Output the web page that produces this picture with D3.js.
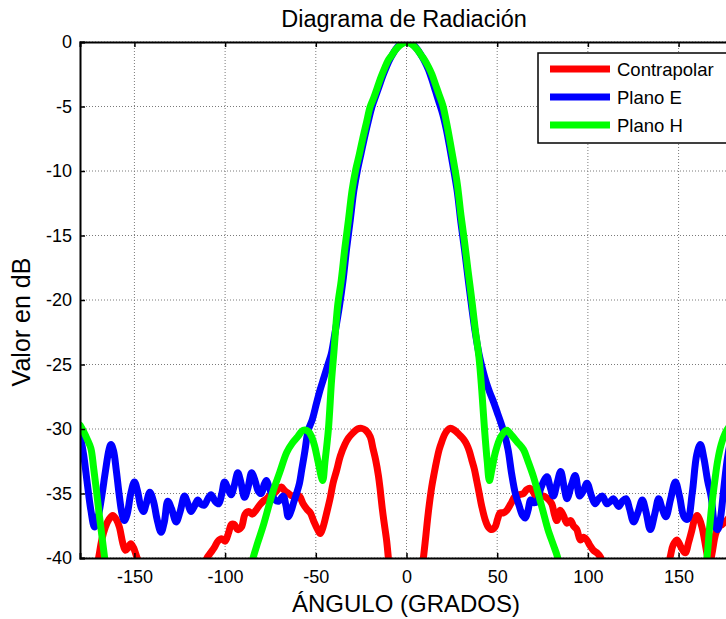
<!DOCTYPE html>
<html>
<head>
<meta charset="utf-8">
<script src="https://cdn.jsdelivr.net/npm/d3@7"></script>
<style>
  body { margin: 0; background: #fff; }
  svg { font-family: "Liberation Sans", Arial, sans-serif; }
</style>
</head>
<body>
<div id="chart"></div>
<script>
var contrapolar = [
  [-180,-45],[-174,-44],[-171,-41],[-169.5,-39.8],[-168,-38.6],[-166,-37.6],[-164,-37.0],[-162,-36.7],
  [-160,-37.0],[-158.3,-37.6],[-156.5,-38.8],[-155,-39.4],[-153.5,-39.2],[-152,-38.9],[-150.5,-39.2],
  [-149,-39.8],[-147,-40.6],[-144,-43],[-130,-45],[-116,-43],[-112,-41],[-110,-40],[-108,-39.6],
  [-106,-39.2],[-104,-38.7],[-102,-38.5],[-100,-38.7],[-98,-38.0],[-96.5,-37.4],[-95,-37.4],[-93,-37.8],
  [-91,-37.6],[-89,-36.6],[-87,-36.4],[-85,-36.6],[-83,-36.3],[-81,-35.9],[-79,-35.6],[-77,-35.4],
  [-75,-35.1],[-73,-35.0],[-71,-34.7],[-69,-34.5],[-67,-34.8],[-65,-35.0],[-63,-35.2],[-61,-35.1],
  [-59,-35.2],[-57,-35.8],[-55,-36.2],[-53,-36.5],[-51,-37.2],[-49,-37.8],[-47.5,-38.1],[-46,-37.6],
  [-44,-36.5],[-42,-35.3],[-40.5,-34.2],[-38.5,-33.2],[-36.5,-32.1],[-34,-31.2],[-32,-30.7],[-29.5,-30.3],
  [-27,-30.0],[-24.7,-29.95],[-22.5,-30.1],[-20,-30.6],[-18.5,-31.5],[-17,-32.4],[-15.5,-33.6],
  [-14.5,-34.7],[-13.5,-36],[-12.5,-37.1],[-11,-38.6],[-10,-40],[-8,-43],[-4,-48],[0,-52],[4,-48],
  [7,-43],[8.3,-41],[9.3,-40],[10.5,-38.5],[12,-36.5],[13.9,-34.5],[15.3,-33.4],[16.7,-32.4],[18,-31.6],
  [19.4,-31],[21.5,-30.3],[24,-29.95],[26.5,-30.1],[29.5,-30.5],[31.5,-30.8],[33.2,-31.2],[34.6,-31.7],
  [36,-32.4],[37.4,-33.1],[38.7,-34],[40.1,-35],[41.5,-36],[43.3,-37.0],[45.1,-37.6],[47,-37.8],
  [48.8,-37.6],[50.2,-37.0],[51.6,-36.5],[53.4,-36.5],[55.3,-36.3],[57.5,-35.8],[59.9,-35.2],[62,-35.1],
  [64.5,-35.0],[66.3,-34.7],[68.2,-34.6],[70,-34.9],[71.9,-35.4],[73.7,-35.3],[75.5,-35.2],[77.8,-35.4],
  [80.1,-35.8],[81.5,-36.6],[82.9,-37.1],[84.7,-36.3],[86.5,-36.7],[88.4,-37.3],[90.5,-37.1],[92,-37.5],
  [93.9,-37.8],[95.8,-38.6],[97.5,-38.4],[99.4,-38.6],[101,-39.0],[103,-39.4],[105,-39.6],[106.8,-39.9],
  [108.5,-40.5],[111,-42],[125,-45],[140,-43],[143.5,-41],[145.4,-39.9],[147,-39.0],[149.1,-38.6],
  [151.5,-39.2],[153.7,-39.6],[155.5,-38.8],[157.4,-37.8],[158.8,-37.0],[160.2,-36.7],[161.5,-37.0],
  [162.9,-37.6],[164.3,-38.6],[165.7,-39.7],[167,-40.6],[168.5,-39.6],[170.3,-38.2],[172,-37.6],
  [174,-37.4],[177,-37],[180,-36.5]
];

var planoE = [
  [-180,-30.4],[-178,-32],[-176,-34.2],[-174,-36.3],[-172,-37.6],[-170,-36.8],[-168,-35.2],[-166,-33.3],
  [-164,-31.6],[-162.9,-31.2],[-161.5,-31.7],[-160,-33.2],[-158.3,-35.2],[-156.8,-36.6],[-155.5,-37.1],
  [-154,-36.6],[-152,-35.0],[-150,-34.1],[-148.3,-34.8],[-146.5,-36.0],[-145,-36.4],[-143.5,-35.8],
  [-141.5,-34.9],[-139.5,-35.6],[-137.5,-37.0],[-135.3,-38.0],[-133.5,-37.2],[-131.6,-35.6],
  [-129.5,-36.2],[-127,-37.2],[-124.8,-36.4],[-122.4,-35.2],[-120.5,-35.8],[-118.8,-36.4],[-117,-36.0],
  [-115.1,-35.5],[-113.5,-35.8],[-111.5,-35.9],[-109.5,-35.4],[-107.7,-35.1],[-105.5,-35.6],
  [-103.5,-35.8],[-101.8,-35.0],[-100.3,-34.1],[-98.5,-34.6],[-96.7,-35.1],[-94.8,-34.3],[-93,-33.4],
  [-91.2,-34.2],[-89.3,-35.3],[-87.3,-34.5],[-85.4,-33.4],[-83.5,-34.0],[-81.8,-34.8],[-80,-35.0],
  [-78.5,-34.3],[-77.2,-34.0],[-75.8,-34.5],[-74.4,-35.0],[-72.5,-35.5],[-70.5,-35.6],[-68,-35.2],
  [-66.5,-35.9],[-65.2,-36.8],[-63.5,-36.3],[-62,-35.6],[-60.6,-35.0],[-59,-34.2],[-57.8,-33.2],
  [-56,-31.7],[-54.2,-30.1],[-52,-29.3],[-49.6,-28.0],[-47.7,-27.0],[-45.5,-26.0],[-43.3,-25.0],
  [-41.5,-24.2],[-39.5,-22.6],[-37,-20.5],[-35,-18.5],[-33,-16],[-31,-13.8],[-29,-11.5],[-27,-9.9],
  [-25,-8.6],[-23,-7.3],[-21,-6.1],[-19,-5.0],[-17,-4.2],[-15,-3.4],[-13,-2.6],[-11,-1.9],[-9,-1.3],
  [-7,-0.8],[-5,-0.4],[-3,-0.15],[-1,0],[1,0],[3,-0.15],[5,-0.4],[8,-1.0],[10,-1.5],[12,-2.1],
  [14,-2.9],[16,-3.8],[18,-4.7],[20,-5.6],[22,-6.8],[24,-8.3],[26,-9.9],[28,-11.6],[30,-14],[32,-16.1],
  [34,-18.4],[36,-20.6],[38,-22.6],[40,-24.2],[42,-25.4],[44,-26.4],[46,-27.2],[48,-27.9],[50,-28.7],
  [52,-29.5],[54,-30.4],[56,-31.6],[58,-33.5],[60,-35],[62,-35.9],[64,-36.7],[65.5,-36.9],[67,-36.3],
  [68.5,-35.5],[70,-35.7],[72,-35.6],[74,-34.6],[77.4,-33.7],[79,-34.4],[81,-35.2],[83,-34.2],
  [85,-33.3],[87,-34.6],[88.5,-35.4],[91,-34.3],[93,-33.6],[95.5,-35.2],[97.5,-34.8],[99.5,-34.2],
  [102,-35.2],[104,-35.8],[106,-35.4],[108,-35.2],[110.5,-35.8],[112.5,-35.6],[114,-35.4],[117,-36.0],
  [119,-35.6],[121,-35.4],[123,-36.2],[125.2,-37.2],[127.5,-36.5],[130,-35.5],[132,-36.4],[134.4,-37.8],
  [137,-36.5],[139,-35.4],[141,-36.2],[143,-36.8],[145.5,-35.5],[148.2,-34.1],[150.5,-35.2],[153,-36.8],
  [155,-37],[157.5,-35],[160,-32],[162,-31.2],[164,-32.3],[166,-34],[168,-35.3],[170,-37.5],
  [171.5,-37.8],[173,-37],[175,-34.5],[177,-32.2],[180,-30]
];

var planoH = [
  [-180,-29.7],[-178,-30.2],[-176,-30.8],[-174,-31.5],[-172.5,-33],[-171,-34.7],[-169.5,-36.5],
  [-168,-38.2],[-166.5,-39.9],[-165,-41.5],[-162,-45],[-120,-50],[-92,-45],[-88,-42],[-85,-40.2],
  [-82,-38.8],[-79,-37.5],[-76,-36.0],[-73.5,-34.8],[-70,-33.4],[-66,-31.8],[-63,-31.1],[-60,-30.6],
  [-57,-30.1],[-54,-30.2],[-52,-30.7],[-50.5,-31.4],[-48.5,-32.7],[-46.2,-34.0],[-45,-32.6],
  [-43.1,-30.1],[-41.3,-26.2],[-40,-24],[-38,-20.5],[-36,-18.5],[-34,-16],[-32,-13.8],[-30,-11.5],
  [-28,-9.9],[-26,-8.7],[-24,-7.4],[-22,-6.2],[-20,-5.0],[-18,-4.3],[-16,-3.5],[-14,-2.7],[-12,-2.0],
  [-10,-1.4],[-8,-1.0],[-6,-0.6],[-4,-0.3],[-2,-0.1],[0,0],[2,-0.1],[4,-0.3],[6,-0.6],[8,-1.0],
  [10,-1.4],[12,-1.9],[14,-2.5],[16,-3.3],[18,-4.1],[20,-4.9],[22,-6.2],[24,-7.7],[26,-9.3],[28,-11],
  [30,-13.4],[32,-15.5],[34,-17.8],[36,-20],[38,-22.4],[40,-24.5],[41.5,-27],[43,-30],[44.5,-32.5],
  [45.7,-34],[47,-33.2],[49,-31.8],[52,-30.6],[55.3,-30.1],[58,-30.5],[61,-31.0],[64.5,-31.6],
  [67,-32.5],[70,-33.7],[73,-35.2],[75.5,-36.5],[78,-37.8],[81,-39],[83,-39.8],[85,-41],[88,-44],
  [120,-50],[160,-45],[164,-41.5],[165.7,-39.9],[167,-37.8],[168.4,-35.8],[170,-34],[171.5,-32.5],
  [173.5,-31.2],[175.8,-30.3],[178,-29.8],[180,-29.5]
];

var series = [
  {name: "Contrapolar", color: "#ff0000", values: contrapolar},
  {name: "Plano E", color: "#0000ff", values: planoE},
  {name: "Plano H", color: "#00ff00", values: planoH}
];
var xTicks = [-150, -100, -50, 0, 50, 100, 150];
var yTicks = [0, -5, -10, -15, -20, -25, -30, -35, -40];

var margin = {top: 42, left: 80, bottom: 61};
var width = 653;
var height = 619 - margin.top - margin.bottom;

var svg = d3.select("#chart").append("svg")
  .attr("width", 726)
  .attr("height", 619);

var x = d3.scaleLinear().domain([-180, 180]).range([0, width]);
var y = d3.scaleLinear().domain([-40, 0]).range([height, 0]);

var g = svg.append("g")
  .attr("transform", "translate(" + margin.left + "," + margin.top + ")");

svg.append("defs").append("clipPath").attr("id", "plotclip")
  .append("rect").attr("x", 0).attr("y", 0).attr("width", width).attr("height", height);

// rejilla punteada
g.append("g").selectAll("line.vg").data(xTicks).enter().append("line")
  .attr("x1", d => x(d)).attr("x2", d => x(d))
  .attr("y1", 0).attr("y2", height)
  .attr("stroke", "#7a7a7a").attr("stroke-width", 1).attr("stroke-dasharray", "1,2");
g.append("g").selectAll("line.hg").data(yTicks).enter().append("line")
  .attr("x1", 0).attr("x2", width)
  .attr("y1", d => y(d)).attr("y2", d => y(d))
  .attr("stroke", "#7a7a7a").attr("stroke-width", 1).attr("stroke-dasharray", "1,2");

// curvas
var line = d3.line()
  .x(d => x(d[0]))
  .y(d => y(d[1]))
  .curve(d3.curveCatmullRom.alpha(0.5));

g.append("g").attr("clip-path", "url(#plotclip)")
  .selectAll("path").data(series).enter().append("path")
  .attr("d", d => line(d.values))
  .attr("fill", "none")
  .attr("stroke", d => d.color)
  .attr("stroke-width", 7)
  .attr("stroke-linejoin", "round")
  .attr("stroke-linecap", "round");

// ejes
var fmt = d => String(d);
var xAxis = g.append("g").attr("transform", "translate(0," + height + ")")
  .call(d3.axisBottom(x).tickValues(xTicks).tickSize(-5).tickPadding(12).tickFormat(fmt));
var xTop = g.append("g")
  .call(d3.axisTop(x).tickValues(xTicks).tickSize(-5).tickFormat(""));
var yAxis = g.append("g")
  .call(d3.axisLeft(y).tickValues(yTicks).tickSize(-5).tickPadding(8).tickFormat(fmt));

[xAxis, xTop, yAxis].forEach(function(a) {
  a.select(".domain").attr("stroke", "#000").attr("stroke-width", 2);
  a.selectAll(".tick line").attr("stroke", "#000").attr("stroke-width", 1.5);
  a.selectAll("text").attr("font-size", "18px").attr("fill", "#000")
    .attr("font-family", "Liberation Sans, Arial, sans-serif");
});

// titulos
svg.append("text")
  .attr("x", 404)
  .attr("y", 27)
  .attr("text-anchor", "middle")
  .attr("font-size", "23.5px")
  .text("Diagrama de Radiación");

svg.append("text")
  .attr("x", 406)
  .attr("y", 612)
  .attr("text-anchor", "middle")
  .attr("font-size", "24px")
  .text("ÁNGULO (GRADOS)");

svg.append("text")
  .attr("transform", "translate(30,322) rotate(-90)")
  .attr("text-anchor", "middle")
  .attr("font-size", "25px")
  .text("Valor en dB");

// leyenda
var legend = svg.append("g").attr("transform", "translate(538,53)");
legend.append("rect")
  .attr("width", 190).attr("height", 90)
  .attr("fill", "#fff").attr("stroke", "#000").attr("stroke-width", 1.5);
var items = legend.selectAll("g.item").data(series).enter().append("g")
  .attr("transform", (d, i) => "translate(0," + (16 + i * 28) + ")");
items.append("line")
  .attr("x1", 12).attr("x2", 72)
  .attr("stroke", d => d.color).attr("stroke-width", 7);
items.append("text")
  .attr("x", 79).attr("y", 6.5)
  .attr("font-size", "18.5px")
  .text(d => d.name);
</script>
</body>
</html>
